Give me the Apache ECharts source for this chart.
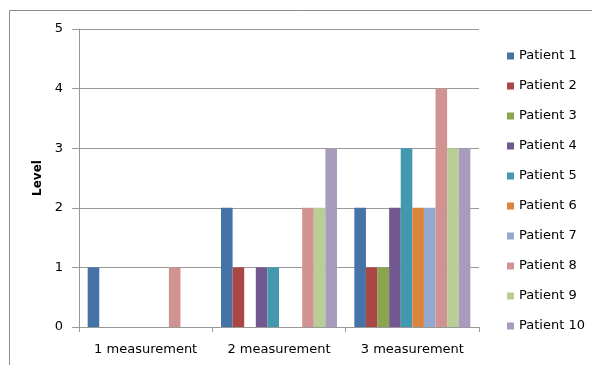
<!DOCTYPE html>
<html>
<head>
<meta charset="utf-8">
<style>
  html, body { margin: 0; padding: 0; background: #fff; }
  #chart { width: 592px; height: 365px; }
</style>
<script src="https://cdn.jsdelivr.net/npm/echarts@6/dist/echarts.min.js"></script>
</head>
<body>
<div id="chart"></div>
<script>
// Measurement rounds on the category axis
const categories = ['1 measurement', '2 measurement', '3 measurement'];

// Level per patient, one value per measurement round
const patientNames = ['Patient 1', 'Patient 2', 'Patient 3', 'Patient 4', 'Patient 5',
                      'Patient 6', 'Patient 7', 'Patient 8', 'Patient 9', 'Patient 10'];
const patient1 = [1, 2, 2];
const patient2 = [0, 1, 1];
const patient3 = [0, 0, 1];
const patient4 = [0, 1, 2];
const patient5 = [0, 1, 3];
const patient6 = [0, 0, 2];
const patient7 = [0, 0, 2];
const patient8 = [1, 2, 4];
const patient9 = [0, 2, 3];
const patient10 = [0, 3, 3];
const patientValues = [patient1, patient2, patient3, patient4, patient5,
                       patient6, patient7, patient8, patient9, patient10];

const levelTicks = [0, 1, 2, 3, 4, 5];

const palette = ['#4572A7', '#AA4643', '#89A54E', '#71588F', '#4198AF',
                 '#DB843D', '#93A9CF', '#D19392', '#B9CD96', '#A99BBD'];

const font = 'DejaVu Sans';
const chart = echarts.init(document.getElementById('chart'), null, { renderer: 'canvas' });

chart.setOption({
  animation: false,
  color: palette,
  graphic: [{
    type: 'rect',
    shape: { x: 9.5, y: 10.5, width: 700, height: 500 },
    style: { fill: null, stroke: '#8c8c8c', lineWidth: 1 },
    silent: true,
    z: -1
  }],
  grid: { left: 79, right: 113, top: 29, bottom: 38 },
  legend: {
    orient: 'vertical',
    left: 502,
    top: 44,
    itemWidth: 7,
    itemHeight: 7,
    itemGap: 16,
    icon: 'rect',
    textStyle: { fontFamily: font, fontSize: 13, color: '#000', lineHeight: 14 },
    data: patientNames
  },
  xAxis: {
    type: 'category',
    data: categories,
    axisLine: { lineStyle: { color: '#999', width: 1 } },
    axisTick: { show: true, length: 5, lineStyle: { color: '#999' } },
    axisLabel: { fontFamily: font, fontSize: 13, color: '#000', margin: 16, interval: 0 }
  },
  yAxis: {
    type: 'value',
    min: levelTicks[0],
    max: levelTicks[levelTicks.length - 1],
    interval: 1,
    name: 'Level',
    nameLocation: 'middle',
    nameGap: 32,
    nameRotate: 90,
    nameTextStyle: { fontFamily: font, fontSize: 12, fontWeight: 'bold', color: '#000' },
    axisLine: { show: true, lineStyle: { color: '#999', width: 1 } },
    axisTick: { show: true, length: 7, lineStyle: { color: '#999' } },
    splitLine: { lineStyle: { color: '#999', width: 1 } },
    axisLabel: { fontFamily: font, fontSize: 13, color: '#000', margin: 16 }
  },
  series: patientNames.map((name, i) => ({
    name: name,
    type: 'bar',
    data: patientValues[i],
    barGap: '0%',
    barCategoryGap: '13%'
  }))
});
</script>
</body>
</html>
